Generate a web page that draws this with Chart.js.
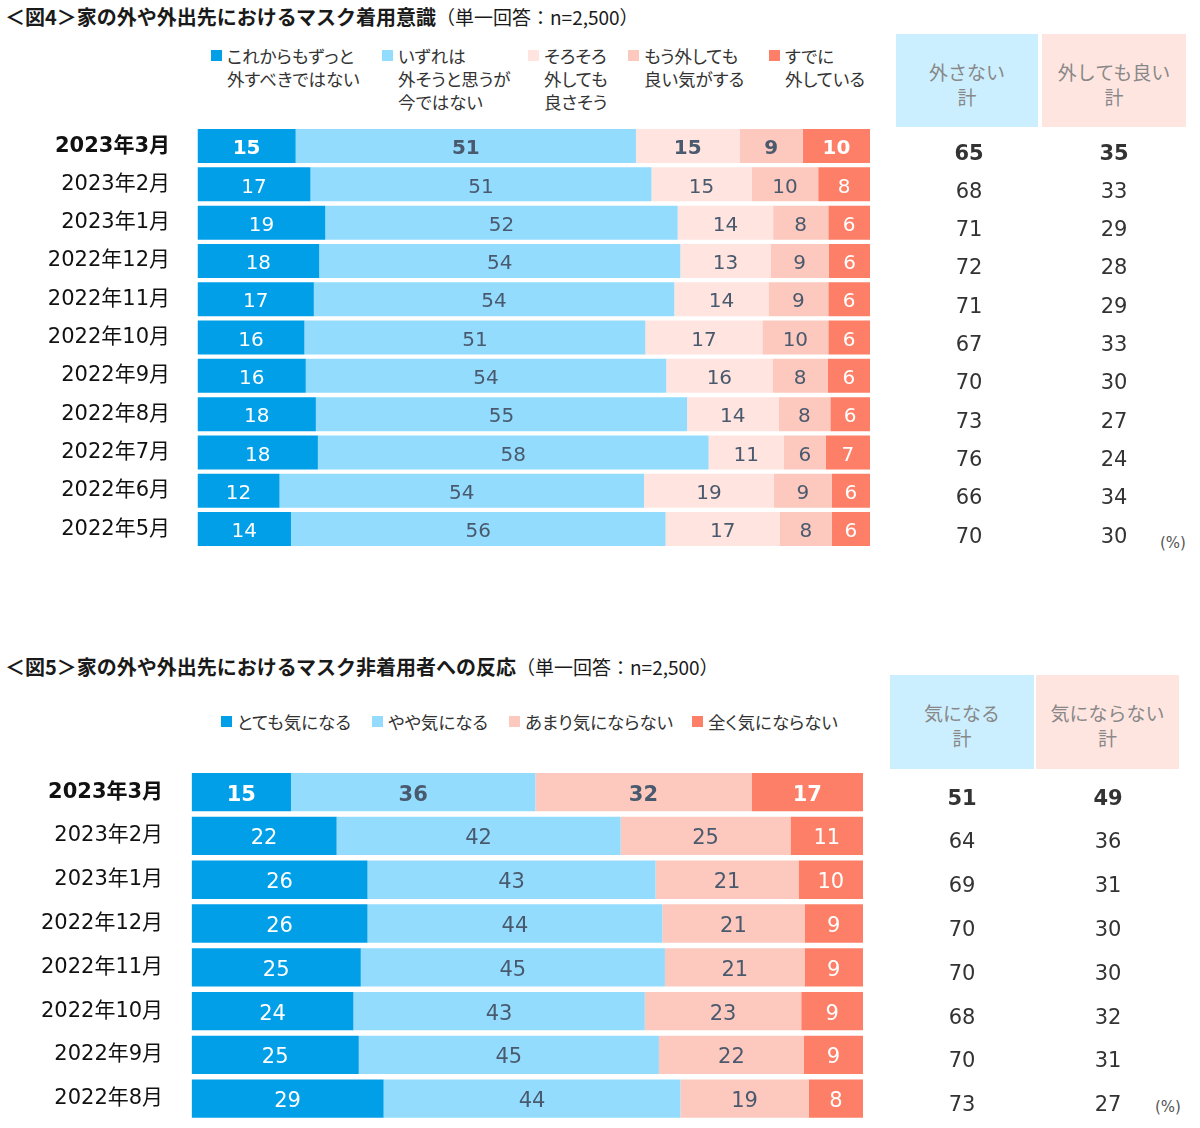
<!DOCTYPE html>
<html lang="ja">
<head>
<meta charset="utf-8">
<script src="https://cdn.jsdelivr.net/npm/chart.js@4/dist/chart.umd.min.js"></script>
<style>
html, body { margin: 0; padding: 0; width: 1200px; height: 1128px; overflow: hidden; background: #fff;
  font-family: "Noto Sans CJK JP", sans-serif; color: #222; }
.abs   { position: absolute; white-space: nowrap; }
.title { font-size: 20px; font-weight: bold; line-height: 24px; color: #1a1a1a; }
.title span { font-weight: normal; font-size: 19px; }
.lg    { font-size: 17.5px; line-height: 23px; color: #333; font-feature-settings: "palt"; white-space: pre; }
.sq    { position: absolute; width: 11px; height: 11px; }
.box   { position: absolute; }
.head  { font-size: 19px; line-height: 25px; color: #888; text-align: center; white-space: pre; }
.pct   { font-size: 15px; line-height: 20px; color: #555; font-family: "DejaVu Sans", "Noto Sans CJK JP"; }
canvas { position: absolute; left: 0; }
</style>
</head>
<body>
<div class="abs title" style="left:5px;top:5px">＜図4＞家の外や外出先におけるマスク着用意識<span>（単一回答：n=2,500）</span></div>
<div class="abs title" style="left:5px;top:655px">＜図5＞家の外や外出先におけるマスク非着用者への反応<span>（単一回答：n=2,500）</span></div>
<div id="legend4"></div>
<div id="legend5"></div>
<div id="heads"></div>
<div class="abs pct" style="left:1160px;top:533px">(%)</div>
<div class="abs pct" style="left:1155px;top:1097px">(%)</div>
<canvas id="fig4" width="1200" height="470" style="top:100px"></canvas>
<canvas id="fig5" width="1200" height="400" style="top:750px"></canvas>
<script>
"use strict";

const $ = id => document.getElementById(id);

// ── Fig.4 data (newest first)
const months4 = ["2023年3月", "2023年2月", "2023年1月", "2022年12月", "2022年11月", "2022年10月",
                 "2022年9月", "2022年8月", "2022年7月", "2022年6月", "2022年5月"];
const legend4 = ["これからもずっと\n外すべきではない", "いずれは\n外そうと思うが\n今ではない",
                 "そろそろ\n外しても\n良さそう", "もう外しても\n良い気がする", "すでに\n外している"];
const keepForever4 = [14.6, 16.8, 19.0, 18.1, 17.3, 15.9, 16.1, 17.6, 17.9, 12.2, 13.9];
const keepForNow4  = [50.6, 50.7, 52.4, 53.7, 53.6, 50.7, 53.6, 55.2, 58.1, 54.2, 55.7];
const soonOff4     = [15.4, 14.9, 14.2, 13.4, 14.0, 17.4, 15.8, 13.6, 11.2, 19.3, 17.0];
const okOff4       = [ 9.4,  9.9,  8.2,  8.7,  8.9,  9.8,  8.2,  7.7,  6.2,  8.6,  7.7];
const alreadyOff4  = [10.0,  7.7,  6.2,  6.1,  6.2,  6.2,  6.3,  5.9,  6.6,  5.7,  5.7];
const heads4       = ["外さない\n計", "外しても良い\n計"];
const keepTotal4   = [65, 68, 71, 72, 71, 67, 70, 73, 76, 66, 70];
const offTotal4    = [35, 33, 29, 28, 29, 33, 30, 27, 24, 34, 30];

// ── Fig.5 data (newest first)
const months5 = ["2023年3月", "2023年2月", "2023年1月", "2022年12月", "2022年11月", "2022年10月",
                 "2022年9月", "2022年8月"];
const legend5 = ["とても気になる", "やや気になる", "あまり気にならない", "全く気にならない"];
const veryMind5   = [14.8, 21.6, 26.2, 26.2, 25.2, 24.1, 24.9, 28.6];
const someMind5   = [36.4, 42.3, 42.9, 43.9, 45.3, 43.4, 44.7, 44.2];
const littleMind5 = [32.2, 25.3, 21.3, 21.2, 20.8, 23.3, 21.6, 19.1];
const noMind5     = [16.6, 10.8,  9.6,  8.7,  8.7,  9.2,  8.8,  8.1];
const heads5      = ["気になる\n計", "気にならない\n計"];
const mindTotal5  = [51, 64, 69, 70, 70, 68, 70, 73];
const noTotal5    = [49, 36, 31, 30, 30, 32, 31, 27];

// ── Colours
const C_DARK = "#009fe8", C_LIGHT = "#93dcfe", C_PALE = "#ffe4df", C_PINK = "#fdc9be", C_CORAL = "#fd7f67";
const INK = "#4a5a6e";
const colors4 = [C_DARK, C_LIGHT, C_PALE, C_PINK, C_CORAL];
const ink4    = ["#fff", INK, INK, INK, "#fff"];
const colors5 = [C_DARK, C_LIGHT, C_PINK, C_CORAL];
const ink5    = ["#fff", INK, INK, "#fff"];
const NUM_FONT = '"DejaVu Sans", "Noto Sans CJK JP"';

// ── Legends
function buildLegend(host, names, colors, xs, top) {
  names.forEach((n, i) => {
    const sq = document.createElement("div");
    sq.className = "sq";
    sq.style.cssText = `left:${xs[i]}px;top:${top + 6}px;background:${colors[i]}`;
    host.appendChild(sq);
    const t = document.createElement("div");
    t.className = "abs lg";
    t.style.cssText = `left:${xs[i] + 16}px;top:${top}px`;
    t.textContent = n;
    host.appendChild(t);
  });
}
buildLegend($("legend4"), legend4, colors4, [211, 382, 528, 628, 769], 44);
buildLegend($("legend5"), legend5, colors5, [221, 372, 509, 692], 710);

// ── Header boxes for totals
function buildHeads(names, boxes, textTop) {
  const host = $("heads");
  names.forEach((n, i) => {
    const b = boxes[i];
    const d = document.createElement("div");
    d.className = "box";
    d.style.cssText = `left:${b[0]}px;top:${b[1]}px;width:${b[2]}px;height:${b[3]}px;background:${b[4]}`;
    const t = document.createElement("div");
    t.className = "abs head";
    t.style.cssText = `left:${b[0]}px;top:${textTop}px;width:${b[2]}px`;
    t.textContent = n;
    host.appendChild(d);
    host.appendChild(t);
  });
}
buildHeads(heads4, [[896, 34, 142, 93, "#ccefff"], [1042, 34, 144, 93, "#ffe5e0"]], 59);
buildHeads(heads5, [[890, 675, 144, 94, "#ccefff"], [1036, 675, 143, 94, "#ffe5e0"]], 700);

// ── Segment labels + totals columns
function labelPlugin(o) {
  return {
    id: "segLabels",
    afterDatasetsDraw(chart) {
      const { ctx } = chart;
      const ys = chart.scales.y;
      ctx.save();
      ctx.textAlign = "center";
      ctx.textBaseline = "middle";
      chart.data.datasets.forEach((ds, di) => {
        chart.getDatasetMeta(di).data.forEach((bar, i) => {
          ctx.font = (i === 0 ? "bold " : "") + o.size + "px " + NUM_FONT;
          ctx.fillStyle = o.ink[di];
          ctx.fillText(Math.round(ds.data[i]), (bar.x + bar.base) / 2, bar.y + 3);
        });
      });
      o.totals.forEach((arr, k) => {
        arr.forEach((v, i) => {
          ctx.font = (i === 0 ? "bold " : "") + "21px " + NUM_FONT;
          ctx.fillStyle = "#333";
          ctx.fillText(v, o.totalX[k], ys.getPixelForValue(i) + o.totalDy);
        });
      });
      ctx.restore();
    }
  };
}

function stackedBar(id, months, series, names, colors, cfg) {
  return new Chart($(id).getContext("2d"), {
    type: "bar",
    data: {
      labels: months,
      datasets: series.map((d, i) => ({
        label: names[i], data: d, backgroundColor: colors[i], borderWidth: 0,
        barPercentage: cfg.barPct, categoryPercentage: 1,
      })),
    },
    options: {
      indexAxis: "y",
      responsive: false, maintainAspectRatio: false, animation: false,
      layout: { padding: cfg.padding },
      plugins: { legend: { display: false }, tooltip: { enabled: false } },
      scales: {
        x: { stacked: true, min: 0, max: 100, display: false },
        y: {
          stacked: true,
          grid: { display: false, drawTicks: false },
          border: { display: false },
          ticks: {
            padding: cfg.tickPad, color: "#111",
            font: c => ({ family: NUM_FONT, size: 21, weight: c.index === 0 ? "bold" : "normal" }),
          },
          // fixed axis width, and no extra room for the tick labels above/below
          afterFit: s => { s.width = cfg.left; s.paddingTop = 0; s.paddingBottom = 0; },
        },
      },
    },
    plugins: [labelPlugin(cfg)],
  });
}

stackedBar("fig4", months4, [keepForever4, keepForNow4, soonOff4, okOff4, alreadyOff4], legend4, colors4, {
  barPct: 0.888, left: 197.5, tickPad: 27.5,
  padding: { left: 0, right: 330, top: 26.9, bottom: 21.8 },
  size: 20, ink: ink4, totals: [keepTotal4, offTotal4], totalX: [969, 1114], totalDy: 8,
});

stackedBar("fig5", months5, [veryMind5, someMind5, littleMind5, noMind5], legend5, colors5, {
  barPct: 0.875, left: 191.6, tickPad: 28.5,
  padding: { left: 0, right: 337, top: 20.3, bottom: 29.5 },
  size: 21, ink: ink5, totals: [mindTotal5, noTotal5], totalX: [962, 1108], totalDy: 7,
});
</script>
</body>
</html>
